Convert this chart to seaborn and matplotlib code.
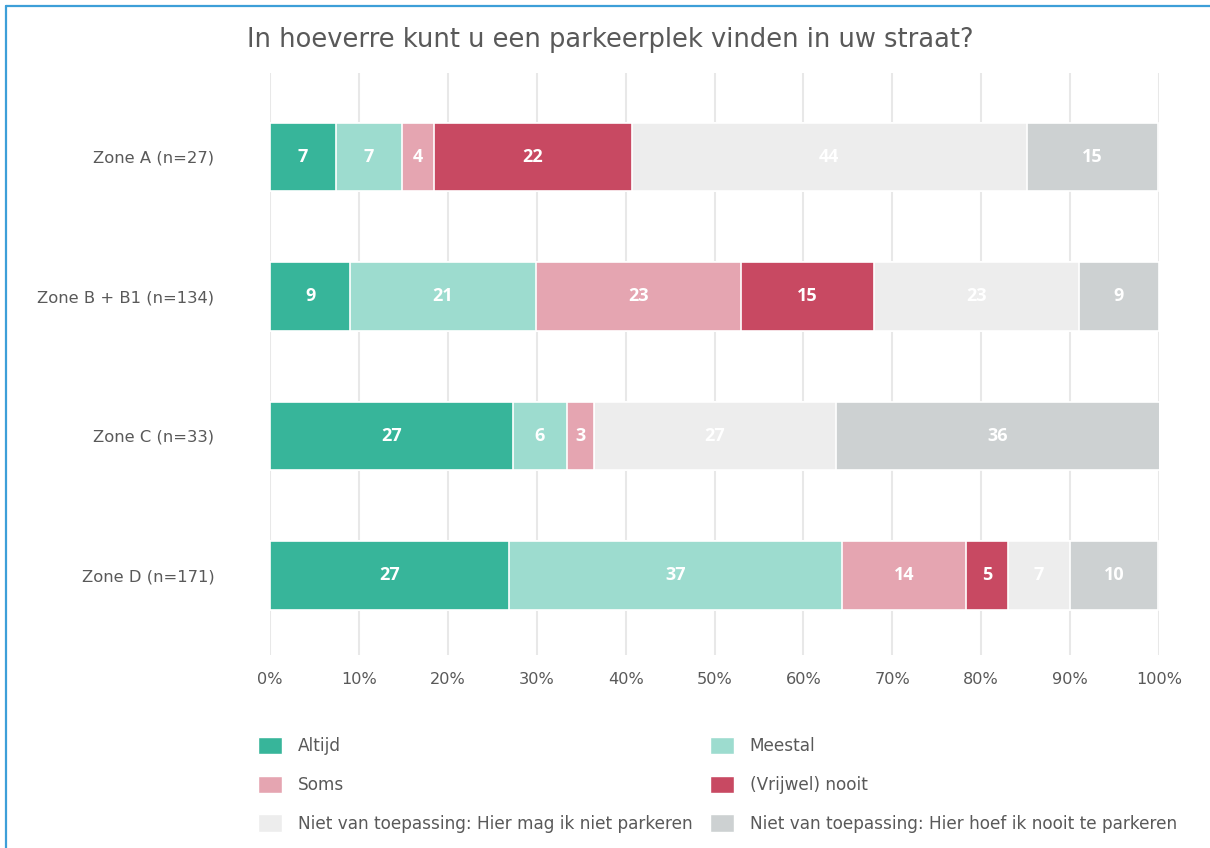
import matplotlib
matplotlib.use("Agg")
import matplotlib.pyplot as plt
import matplotlib.patches as mpatches
from matplotlib.lines import Line2D
import numpy as np
import pandas as pd
import seaborn as sns

sns.set_theme(style="white")
plt.rcParams['font.family'] = ['DejaVu Sans']

# ---- data (percentages per zone) ----
zones = ["Zone A (n=27)", "Zone B + B1 (n=134)", "Zone C (n=33)", "Zone D (n=171)"]
categories = ["Altijd", "Meestal", "Soms", "(Vrijwel) nooit",
              "Niet van toepassing: Hier mag ik niet parkeren",
              "Niet van toepassing: Hier hoef ik nooit te parkeren"]
altijd = [7.4, 9.0, 27.3, 26.9]
meestal = [7.4, 20.9, 6.1, 37.4]
soms = [3.7, 23.1, 3.0, 14.0]
vrijwel_nooit = [22.2, 14.9, 0.0, 4.7]
niet_mag = [44.4, 23.1, 27.3, 7.0]
niet_hoef = [14.8, 9.0, 36.4, 9.9]
tick_labels = ["0%", "10%", "20%", "30%", "40%", "50%", "60%", "70%", "80%", "90%", "100%"]

colors = ["#37b59a", "#9ddccf", "#e5a5b1", "#c84962", "#ededed", "#cdd1d2"]
series = [altijd, meestal, soms, vrijwel_nooit, niet_mag, niet_hoef]

W, H = 1210, 848
fig = plt.figure(figsize=(W / 100, H / 100), dpi=100)
ax = fig.add_axes([270 / W, 1 - 655 / H, (1159 - 270) / W, (655 - 73) / H])

grey = "#595959"
vals = np.array(series)  # shape (6, 4)
cum = np.cumsum(vals, axis=0)

# draw layered bars from the right-most cumulative back to the first
for i in range(len(series) - 1, -1, -1):
    df = pd.DataFrame({"zone": zones, "value": cum[i]})
    sns.barplot(data=df, x="value", y="zone", order=zones, color=colors[i],
                saturation=1, width=0.49, edgecolor="white", linewidth=1.2,
                ax=ax, orient="h", zorder=3, errorbar=None)

# value labels
for i, s in enumerate(series):
    for j, v in enumerate(s):
        if v <= 0:
            continue
        ax.text(cum[i][j] - v / 2, j, f"{int(round(v))}", ha="center", va="center",
                color="white", fontsize=13, fontweight="bold", zorder=5,
                family=["Open Sans", "DejaVu Sans"])

ax.set_xlim(0, 100)
ax.set_ylim(3.57, -0.6)
ax.set_xticks(np.arange(0, 101, 10))
ax.set_xticklabels(tick_labels)
for x in np.arange(0, 101, 10):
    ax.axvline(x, color="#e8e8e8", lw=1.5, zorder=1)
for sp in ax.spines.values():
    sp.set_visible(False)
ax.tick_params(axis="x", length=0, pad=12, labelsize=11.6, labelcolor=grey)
ax.tick_params(axis="y", length=0, pad=40, labelsize=11.8, labelcolor=grey)
ax.set_xlabel("")
ax.set_ylabel("")

fig.text(610 / W, 1 - 40 / H, "In hoeverre kunt u een parkeerplek vinden in uw straat?",
         ha="center", va="center", fontsize=18.5, color=grey)

# legend: two columns
def mk(idx):
    return [mpatches.Patch(facecolor=colors[k], edgecolor="white", label=categories[k]) for k in idx]

leg_kw = dict(frameon=False, fontsize=12.2, labelcolor=grey, handlelength=1.4,
              handleheight=1.2, handletextpad=0.95, labelspacing=1.2, borderpad=0,
              borderaxespad=0, loc="upper left")
fig.legend(handles=mk([0, 2, 4]), bbox_to_anchor=(258 / W, 1 - 737 / H), **leg_kw)
fig.legend(handles=mk([1, 3, 5]), bbox_to_anchor=(710 / W, 1 - 737 / H), **leg_kw)

# blue frame lines (top and left)
fig.add_artist(Line2D([6 / W, 1], [1 - 6 / H, 1 - 6 / H], transform=fig.transFigure,
                      color="#3d9fd8", lw=1.6))
fig.add_artist(Line2D([6 / W, 6 / W], [0, 1 - 6 / H], transform=fig.transFigure,
                      color="#3d9fd8", lw=1.6))

fig.savefig("out.png", dpi=100, facecolor="white")
